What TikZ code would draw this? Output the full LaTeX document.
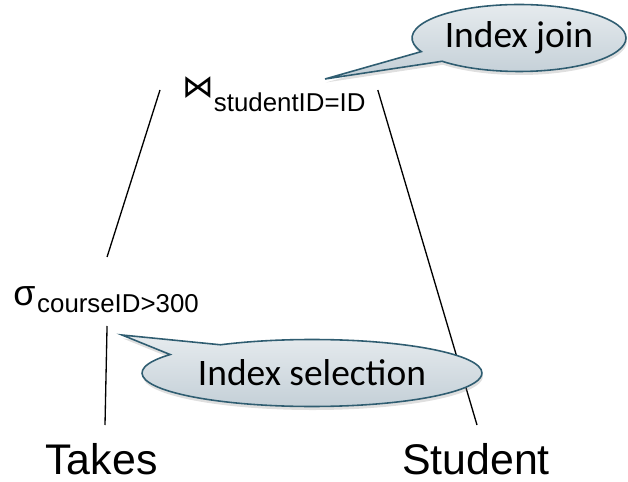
\documentclass[tikz,border=0pt]{standalone}
\usepackage{fontspec}
\setmainfont{Liberation Sans}
\newfontfamily\notefont{Carlito}
\newfontfamily\symfont{DejaVu Sans}
\usetikzlibrary{shapes.callouts,shadows}

\definecolor{noteedge}{RGB}{47,93,113}
\definecolor{notetop}{RGB}{230,235,238}
\definecolor{notebottom}{RGB}{194,206,214}
\newcommand{\subsz}{\fontsize{14.7}{18}\selectfont}

\tikzset{
  rel/.style={font=\fontsize{24.4}{29}\selectfont, inner sep=0pt, anchor=base, text depth=0pt},
  op/.style={inner sep=0pt, anchor=base west},
  edge/.style={line width=0.75pt},
  note/.style={ellipse callout, draw=noteedge, line width=0.9pt,
    top color=notetop, bottom color=notebottom, inner sep=0pt,
    minimum height=1.34cm, font=\notefont\fontsize{21.3}{25}\selectfont,
    drop shadow={opacity=0.25, shadow xshift=0.5pt, shadow yshift=-2pt}}
}

\begin{document}
\begin{tikzpicture}[x=0.02cm,y=-0.02cm]
  \useasboundingbox (0,0) rectangle (628,482);

  % plan
  \node[op] (join) at (182,112) {\raisebox{8.5pt}{\symfont\fontsize{18}{20}\selectfont ⋈}{\subsz studentID=ID}};
  \node[op] (sel) at (13,313) {{\fontsize{20.4}{24}\selectfont\raisebox{4.5pt}{σ}}\kern1pt{\subsz courseID>300}};
  \node[rel] (takes) at (101.5,474) {Takes};
  \node[rel] (student) at (476,474) {Student};

  \draw[edge] ([shift={(-22,-22)}]join.base west) -- ([shift={(1,-56)}]sel.base);
  \draw[edge] ([shift={(1,13)}]sel.base) -- ([shift={(3.5,-49)}]takes.base);
  \draw[edge] ([shift={(12,-22)}]join.base east) -- ([shift={(1,-49)}]student.base);

  % notes
  \node[note, minimum width=4.28cm, callout pointer arc=20,
    callout absolute pointer={(325,79)}] (joinnote) at (519,38) {Index join};
  \node[note, minimum width=6.8cm, callout pointer arc=24,
    callout absolute pointer={(122,335)}] (selnote) at (312,373) {Index selection};
\end{tikzpicture}
\end{document}
